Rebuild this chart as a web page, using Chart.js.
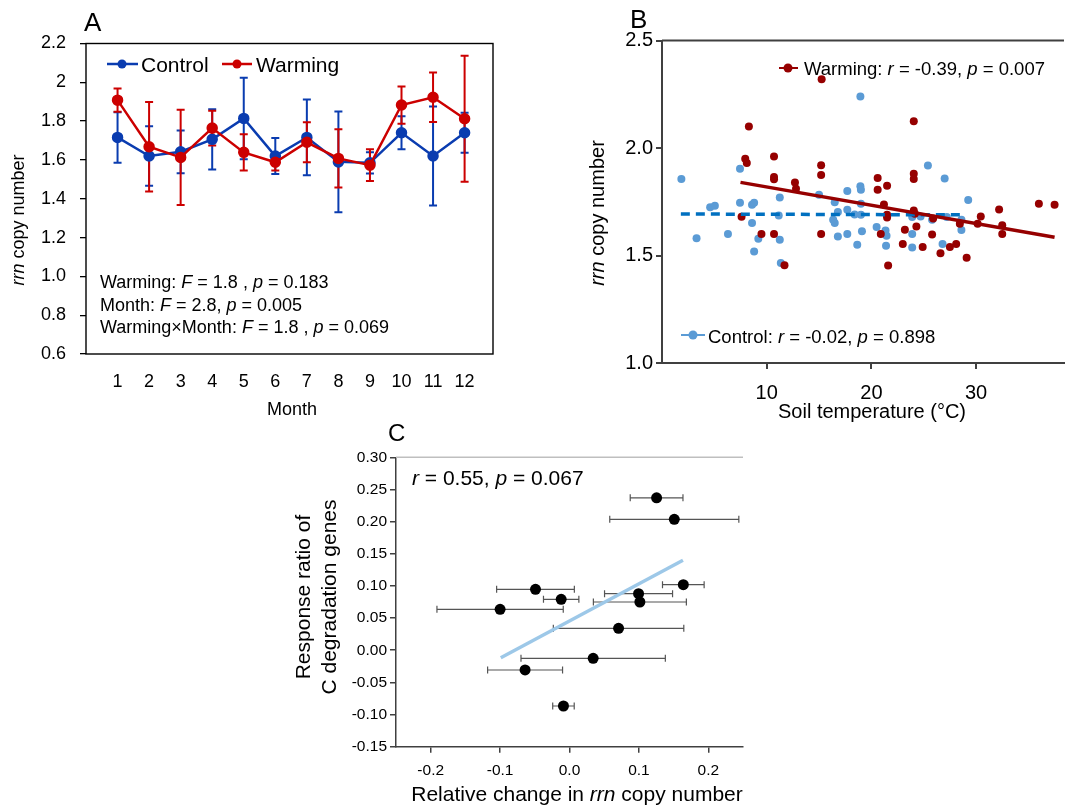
<!DOCTYPE html>
<html>
<head>
<meta charset="utf-8">
<title>rrn copy number</title>
<script src="https://cdn.jsdelivr.net/npm/chart.js@4/dist/chart.umd.min.js"></script>
<style>
  html, body { margin: 0; padding: 0; background: #fff; }
  body { width: 1068px; height: 809px; position: relative; overflow: hidden; }
  canvas { position: absolute; }
  #chartA { left: 0; top: 0; }
  #chartB { left: 560px; top: 0; }
  #chartC { left: 290px; top: 420px; }
</style>
</head>
<body>
<canvas id="chartA" width="500" height="420"></canvas>
<canvas id="chartB" width="508" height="430"></canvas>
<canvas id="chartC" width="460" height="389"></canvas>
<script>
// ---- Panel A: monthly rrn copy number ----
const months = [1, 2, 3, 4, 5, 6, 7, 8, 9, 10, 11, 12];
const controlMean = [1.716, 1.62, 1.642, 1.706, 1.814, 1.62, 1.716, 1.59, 1.585, 1.74, 1.62, 1.74];
const controlErr = [0.13, 0.153, 0.11, 0.155, 0.21, 0.093, 0.195, 0.26, 0.055, 0.085, 0.255, 0.103];
const warmingMean = [1.908, 1.668, 1.613, 1.764, 1.639, 1.588, 1.691, 1.608, 1.573, 1.883, 1.923, 1.812];
const warmingErr = [0.06, 0.23, 0.245, 0.09, 0.093, 0.042, 0.103, 0.15, 0.082, 0.096, 0.128, 0.325];
const yTicksA = [0.6, 0.8, 1.0, 1.2, 1.4, 1.6, 1.8, 2.0, 2.2];
const yLabelsA = ['0.6', '0.8', '1.0', '1.2', '1.4', '1.6', '1.8', '2', '2.2'];

// ---- Panel B: rrn copy number vs soil temperature ----
const tempWarming = [7.6, 7.95, 8.1, 8.3, 9.5, 10.7, 10.7, 10.7, 10.7, 11.7, 12.7, 12.8, 15.25, 15.2, 15.2, 15.2,
  20.6, 20.6, 20.9, 21.2, 21.5, 21.5, 21.5, 21.6, 23.0, 23.2, 24.05, 24.05, 24.05, 24.05, 24.15, 24.3, 24.9,
  25.9, 25.8, 26.6, 27.5, 28.1, 28.45, 29.1, 30.15, 30.45, 32.2, 32.5, 32.5, 36.0, 37.5];
const rrnWarming = [1.68, 1.95, 1.93, 2.10, 1.60, 1.96, 1.865, 1.855, 1.60, 1.455, 1.84, 1.81, 2.32, 1.92, 1.875, 1.60,
  1.86, 1.806, 1.60, 1.737, 1.825, 1.69, 1.677, 1.453, 1.554, 1.62, 2.125, 1.88, 1.856, 1.709, 1.694, 1.635, 1.54,
  1.672, 1.598, 1.51, 1.54, 1.553, 1.648, 1.49, 1.648, 1.681, 1.714, 1.641, 1.60, 1.741, 1.736];
const tempControl = [1.85, 3.3, 4.6, 5.05, 6.3, 7.45, 7.45, 8.6, 8.8, 8.6, 8.8, 9.2, 11.25, 11.15, 11.25, 11.35,
  15.0, 16.5, 16.35, 16.5, 16.8, 16.8, 17.7, 17.7, 17.7, 18.4, 18.65, 18.95, 18.95, 19.0, 19.0, 19.0, 19.1,
  20.5, 21.35, 21.45, 21.4, 23.9, 23.9, 23.9, 24.7, 25.4, 25.8, 26.8, 27.0, 27.2, 28.6, 28.6, 29.25];
const rrnControl = [1.856, 1.58, 1.725, 1.731, 1.60, 1.904, 1.745, 1.736, 1.745, 1.651, 1.519, 1.578, 1.77, 1.686, 1.573, 1.465,
  1.782, 1.748, 1.666, 1.651, 1.702, 1.588, 1.80, 1.713, 1.60, 1.691, 1.55, 2.239, 1.822, 1.806, 1.741, 1.69, 1.613,
  1.632, 1.616, 1.592, 1.545, 1.679, 1.60, 1.537, 1.681, 1.919, 1.666, 1.553, 1.858, 1.679, 1.666, 1.619, 1.758];
const fitWarmingX = [7.5, 37.5];
const fitWarmingY = [1.84, 1.585];
const fitControlX = [1.8, 28.8];
const fitControlY = [1.693, 1.689];
const xTicksB = [10, 20, 30];
const yTicksB = [1.0, 1.5, 2.0, 2.5];

// ---- Panel C: response ratio vs relative change ----
const relChange = [0.1255, 0.151, 0.164, 0.0995, 0.1014, -0.049, -0.012, -0.1, 0.0707, 0.0341, -0.064, -0.0087];
const relChangeErr = [0.038, 0.093, 0.03, 0.049, 0.067, 0.056, 0.0255, 0.091, 0.094, 0.104, 0.054, 0.0155];
const responseRatio = [0.237, 0.2036, 0.102, 0.088, 0.075, 0.0947, 0.0792, 0.0636, 0.034, -0.0126, -0.0307, -0.0867];
const fitCX = [-0.099, 0.1635];
const fitCY = [-0.0116, 0.140];
const xTicksC = [-0.2, -0.1, 0.0, 0.1, 0.2];
const yTicksC = [-0.15, -0.10, -0.05, 0.00, 0.05, 0.10, 0.15, 0.20, 0.25, 0.30];

const FONT = '"Liberation Sans", Arial, sans-serif';
const BLUE = '#0a3cb0';
const RED = '#cc0000';
const DARKRED = '#960000';
const LIGHTBLUE = '#5b9bd5';
const DASHBLUE = '#0070c0';
const AXIS = '#404040';

Chart.defaults.font.family = FONT;
Chart.defaults.color = '#000';

function pts(xs, ys) {
  return xs.map((x, i) => ({ x: x, y: ys[i] }));
}

// text with italic pieces; parts = [[text, italic], ...]
function richText(ctx, parts, x, y, size, align) {
  let w = 0;
  parts.forEach(p => {
    ctx.font = (p[1] ? 'italic ' : '') + size + 'px ' + FONT;
    w += ctx.measureText(p[0]).width;
  });
  let cx = align === 'center' ? x - w / 2 : x;
  ctx.textAlign = 'left';
  ctx.textBaseline = 'alphabetic';
  ctx.fillStyle = '#000';
  parts.forEach(p => {
    ctx.font = (p[1] ? 'italic ' : '') + size + 'px ' + FONT;
    ctx.fillText(p[0], cx, y);
    cx += ctx.measureText(p[0]).width;
  });
}

function rotatedText(ctx, parts, x, y, size) {
  ctx.save();
  ctx.translate(x, y);
  ctx.rotate(-Math.PI / 2);
  richText(ctx, parts, 0, 0, size, 'center');
  ctx.restore();
}

function legendMark(ctx, x1, x2, xd, y, color, r, lw) {
  ctx.save();
  ctx.strokeStyle = color;
  ctx.fillStyle = color;
  ctx.lineWidth = lw;
  ctx.beginPath();
  ctx.moveTo(x1, y);
  ctx.lineTo(x2, y);
  ctx.stroke();
  ctx.beginPath();
  ctx.arc(xd, y, r, 0, Math.PI * 2);
  ctx.fill();
  ctx.restore();
}

// ---- plugin: panel A decorations ----
const panelA = {
  id: 'panelA',
  beforeDatasetsDraw(chart) {
    const ctx = chart.ctx, xs = chart.scales.x, ys = chart.scales.y;
    const bars = [[controlMean, controlErr, BLUE], [warmingMean, warmingErr, RED]];
    ctx.save();
    ctx.lineWidth = 2;
    bars.forEach(b => {
      ctx.strokeStyle = b[2];
      months.forEach((m, i) => {
        const px = xs.getPixelForValue(m);
        const top = ys.getPixelForValue(b[0][i] + b[1][i]);
        const bot = ys.getPixelForValue(b[0][i] - b[1][i]);
        ctx.beginPath();
        ctx.moveTo(px, top); ctx.lineTo(px, bot);
        ctx.moveTo(px - 4, top); ctx.lineTo(px + 4, top);
        ctx.moveTo(px - 4, bot); ctx.lineTo(px + 4, bot);
        ctx.stroke();
      });
    });
    ctx.restore();
  },
  afterDraw(chart) {
    const ctx = chart.ctx, a = chart.chartArea;
    ctx.save();
    ctx.strokeStyle = '#000';
    ctx.lineWidth = 1.4;
    ctx.strokeRect(a.left, a.top, a.right - a.left, a.bottom - a.top);
    ctx.restore();

    richText(ctx, [['A', 0]], 84, 31, 26, 'left');
    rotatedText(ctx, [['rrn', 1], [' copy number', 0]], 24, 220, 18);
    richText(ctx, [['Month', 0]], 292, 415, 18, 'center');

    legendMark(ctx, 107, 138, 122, 64, BLUE, 4.5, 2.5);
    richText(ctx, [['Control', 0]], 141, 72, 21, 'left');
    legendMark(ctx, 222, 252, 237, 64, RED, 4.5, 2.5);
    richText(ctx, [['Warming', 0]], 256, 72, 21, 'left');

    richText(ctx, [['Warming: ', 0], ['F', 1], [' = 1.8 , ', 0], ['p', 1], [' = 0.183', 0]], 100, 288, 18, 'left');
    richText(ctx, [['Month: ', 0], ['F', 1], [' = 2.8, ', 0], ['p', 1], [' = 0.005', 0]], 100, 311, 18, 'left');
    richText(ctx, [['Warming\u00d7Month: ', 0], ['F', 1], [' = 1.8 , ', 0], ['p', 1], [' = 0.069', 0]], 100, 333, 18, 'left');
  }
};

// ---- plugin: panel B decorations ----
const panelB = {
  id: 'panelB',
  afterDraw(chart) {
    const ctx = chart.ctx, a = chart.chartArea;
    ctx.save();
    ctx.strokeStyle = AXIS;
    ctx.lineWidth = 2;
    ctx.beginPath();
    ctx.moveTo(a.left, a.top);
    ctx.lineTo(a.right, a.top);
    ctx.stroke();
    ctx.restore();

    richText(ctx, [['B', 0]], 70, 28, 26, 'left');
    rotatedText(ctx, [['rrn', 1], [' copy number', 0]], 44, 213, 20);
    richText(ctx, [['Soil temperature (\u00b0C)', 0]], 312, 418, 20, 'center');

    legendMark(ctx, 219, 238, 228, 68, DARKRED, 4.5, 2);
    richText(ctx, [['Warming: ', 0], ['r', 1], [' = -0.39, ', 0], ['p', 1], [' = 0.007', 0]], 244, 75, 18.5, 'left');
    legendMark(ctx, 121, 145, 133, 335, LIGHTBLUE, 4.5, 2);
    richText(ctx, [['Control: ', 0], ['r', 1], [' = -0.02, ', 0], ['p', 1], [' = 0.898', 0]], 148, 343, 18.5, 'left');
  }
};

// ---- plugin: panel C decorations ----
const panelC = {
  id: 'panelC',
  beforeDatasetsDraw(chart) {
    const ctx = chart.ctx, xs = chart.scales.x, ys = chart.scales.y;
    ctx.save();
    ctx.strokeStyle = '#555';
    ctx.lineWidth = 1.2;
    relChange.forEach((v, i) => {
      const py = ys.getPixelForValue(responseRatio[i]);
      const l = xs.getPixelForValue(v - relChangeErr[i]);
      const r = xs.getPixelForValue(v + relChangeErr[i]);
      ctx.beginPath();
      ctx.moveTo(l, py); ctx.lineTo(r, py);
      ctx.moveTo(l, py - 3.5); ctx.lineTo(l, py + 3.5);
      ctx.moveTo(r, py - 3.5); ctx.lineTo(r, py + 3.5);
      ctx.stroke();
    });
    ctx.restore();
  },
  afterDraw(chart) {
    const ctx = chart.ctx, a = chart.chartArea;
    ctx.save();
    ctx.strokeStyle = '#bfbfbf';
    ctx.lineWidth = 1.5;
    ctx.beginPath();
    ctx.moveTo(a.left, a.top);
    ctx.lineTo(a.right, a.top);
    ctx.stroke();
    ctx.restore();

    richText(ctx, [['C', 0]], 98, 21, 24, 'left');
    richText(ctx, [['r', 1], [' = 0.55, ', 0], ['p', 1], [' = 0.067', 0]], 122, 65, 21, 'left');
    rotatedText(ctx, [['Response ratio of', 0]], 20, 177, 21);
    rotatedText(ctx, [['C degradation genes', 0]], 46, 177, 21);
    richText(ctx, [['Relative change in ', 0], ['rrn', 1], [' copy number', 0]], 287, 381, 21, 'center');
  }
};

const common = {
  responsive: false,
  animation: false,
  events: [],
  plugins: { legend: { display: false }, tooltip: { enabled: false } }
};

// Panel A
new Chart(document.getElementById('chartA'), {
  type: 'scatter',
  data: {
    datasets: [
      {
        label: 'Warming', data: pts(months, warmingMean), showLine: true,
        borderColor: RED, backgroundColor: RED, borderWidth: 2.5, pointRadius: 4.5, order: 1
      },
      {
        label: 'Control', data: pts(months, controlMean), showLine: true,
        borderColor: BLUE, backgroundColor: BLUE, borderWidth: 2.5, pointRadius: 4.5, order: 2
      }
    ]
  },
  options: Object.assign({}, common, {
    layout: { padding: { top: 43.5, right: 7, left: 0, bottom: 0 } },
    scales: {
      x: {
        type: 'linear', min: 0, max: 12.9,
        afterBuildTicks: s => { s.ticks = months.map(v => ({ value: v })); },
        afterFit: s => { s.height = 66; },
        grid: { display: false, drawTicks: false },
        border: { display: false },
        ticks: { font: { size: 18 }, color: '#000', padding: 17, maxRotation: 0, autoSkip: false }
      },
      y: {
        min: 0.6, max: 2.2,
        afterBuildTicks: s => { s.ticks = yTicksA.map(v => ({ value: v })); },
        afterFit: s => { s.width = 86; },
        grid: { drawOnChartArea: false, color: '#000', lineWidth: 1.3, tickLength: 6 },
        border: { display: false },
        ticks: { font: { size: 18 }, color: '#000', padding: 14, autoSkip: false, callback: (v, i) => yLabelsA[i] }
      }
    }
  }),
  plugins: [panelA]
});

// Panel B
new Chart(document.getElementById('chartB'), {
  type: 'scatter',
  data: {
    datasets: [
      {
        label: 'Warming fit', data: pts(fitWarmingX, fitWarmingY), showLine: true,
        borderColor: DARKRED, borderWidth: 3.5, pointRadius: 0, order: 1
      },
      {
        label: 'Control fit', data: pts(fitControlX, fitControlY), showLine: true,
        borderColor: DASHBLUE, borderWidth: 3.5, borderDash: [9, 6], pointRadius: 0, order: 2
      },
      {
        label: 'Warming', data: pts(tempWarming, rrnWarming),
        backgroundColor: DARKRED, borderWidth: 0, pointRadius: 4, order: 3
      },
      {
        label: 'Control', data: pts(tempControl, rrnControl),
        backgroundColor: LIGHTBLUE, borderWidth: 0, pointRadius: 4, order: 4
      }
    ]
  },
  options: Object.assign({}, common, {
    layout: { padding: { top: 40.5, right: 0, left: 0, bottom: 0 } },
    scales: {
      x: {
        type: 'linear', min: 0, max: 38.4,
        afterBuildTicks: s => { s.ticks = xTicksB.map(v => ({ value: v })); },
        afterFit: s => { s.height = 67; },
        grid: { drawOnChartArea: false, color: AXIS, lineWidth: 2, tickLength: 6 },
        border: { color: AXIS, width: 2 },
        ticks: { font: { size: 20 }, color: '#000', padding: 12, maxRotation: 0 }
      },
      y: {
        min: 1.0, max: 2.5,
        afterBuildTicks: s => { s.ticks = yTicksB.map(v => ({ value: v })); },
        afterFit: s => { s.width = 102; },
        grid: { drawOnChartArea: false, color: AXIS, lineWidth: 2, tickLength: 6 },
        border: { color: AXIS, width: 2 },
        ticks: { font: { size: 20 }, color: '#000', padding: 3, callback: v => v.toFixed(1) }
      }
    }
  }),
  plugins: [panelB]
});

// Panel C
new Chart(document.getElementById('chartC'), {
  type: 'scatter',
  data: {
    datasets: [
      {
        label: 'Fit', data: pts(fitCX, fitCY), showLine: true,
        borderColor: '#9dc8e8', borderWidth: 3.5, pointRadius: 0, order: 2
      },
      {
        label: 'Genes', data: pts(relChange, responseRatio),
        backgroundColor: '#000', borderWidth: 0, pointRadius: 5.5, order: 1
      }
    ]
  },
  options: Object.assign({}, common, {
    layout: { padding: { top: 37.3, right: 7, left: 0, bottom: 0 } },
    scales: {
      x: {
        type: 'linear', min: -0.25, max: 0.25,
        afterBuildTicks: s => { s.ticks = xTicksC.map(v => ({ value: v })); },
        afterFit: s => { s.height = 62.3; },
        grid: { drawOnChartArea: false, color: AXIS, lineWidth: 1.5, tickLength: 6 },
        border: { color: AXIS, width: 1.5 },
        ticks: { font: { size: 15.5 }, color: '#000', padding: 9, maxRotation: 0, callback: v => v.toFixed(1) }
      },
      y: {
        min: -0.15, max: 0.30,
        afterBuildTicks: s => { s.ticks = yTicksC.map(v => ({ value: v })); },
        afterFit: s => { s.width = 106; },
        grid: { drawOnChartArea: false, color: AXIS, lineWidth: 1.5, tickLength: 6 },
        border: { color: AXIS, width: 1.5 },
        ticks: { font: { size: 15.5 }, color: '#000', padding: 3, autoSkip: false, callback: v => v.toFixed(2) }
      }
    }
  }),
  plugins: [panelC]
});
</script>
</body>
</html>
